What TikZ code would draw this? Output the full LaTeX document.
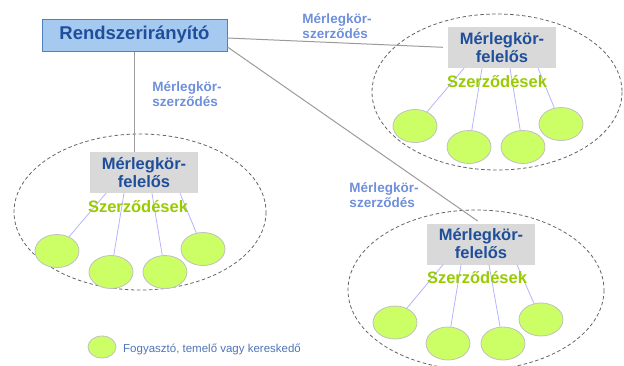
\documentclass[tikz,border=0pt]{standalone}
\usepackage{fontspec}
\setmainfont{Liberation Sans}
\usetikzlibrary{shapes.geometric,calc}

\definecolor{boxfill}{RGB}{166,201,240}
\definecolor{boxline}{RGB}{79,129,189}
\definecolor{darkblue}{RGB}{31,78,155}
\definecolor{lblue}{RGB}{110,143,220}
\definecolor{legblue}{RGB}{79,116,184}
\definecolor{greytxt}{RGB}{217,217,217}
\definecolor{contract}{RGB}{153,204,0}
\definecolor{member}{RGB}{204,255,102}
\definecolor{memberline}{RGB}{192,192,192}
\definecolor{link}{RGB}{155,155,155}
\definecolor{branch}{RGB}{180,180,255}
\definecolor{zone}{RGB}{100,100,100}

\tikzset{
  operator/.style={draw=boxline, line width=1pt, fill=boxfill, text=darkblue,
    font=\fontsize{18.5}{20}\selectfont\bfseries, minimum width=185pt,
    minimum height=32pt, inner sep=0pt},
  brp/.style={fill=greytxt, text=darkblue, align=center,
    font=\fontsize{16.5}{18}\selectfont\bfseries, minimum width=108pt,
    minimum height=41pt, inner sep=0pt},
  contracts/.style={text=contract, font=\fontsize{16.5}{18}\selectfont\bfseries, inner sep=0pt},
  agreement/.style={text=lblue, align=left,
    font=\fontsize{13.5}{14.5}\selectfont\bfseries, inner sep=0pt},
  party/.style={ellipse, draw=memberline, line width=0.8pt, fill=member,
    minimum width=44pt, minimum height=33pt, inner sep=0pt},
  zoneline/.style={draw=zone, line width=0.8pt, dash pattern=on 3.5pt off 2.5pt},
  linkline/.style={draw=link, line width=1pt},
  branchline/.style={draw=branch, line width=0.8pt},
}

\begin{document}
\begin{tikzpicture}[x=1pt, y=-1pt]
  \useasboundingbox (0,0) rectangle (624,365);
  \clip (0,0) rectangle (624,365);

  % balance groups
  \draw[zoneline] (140,212) ellipse [x radius=126, y radius=78];
  \draw[zoneline] (497,92) ellipse [x radius=125, y radius=78];
  \draw[zoneline] (476,290) ellipse [x radius=128, y radius=80];

  % system operator and balance responsible parties
  \node[operator] (rs) at (134.5,35) {Rendszerirányító};
  \node[brp] (g1) at (144,172.5) {Mérlegkör-\\felelős};
  \node[brp] (g2) at (502,47.5) {Mérlegkör-\\felelős};
  \node[brp] (g3) at (481,244) {Mérlegkör-\\felelős};

  % consumers, producers, traders
  \foreach \g/\i/\dx/\dy in {1/1/-87/78.5, 1/2/-33/99.5, 1/3/21/99.5, 1/4/59/76.5,
                            2/1/-87/78.5, 2/2/-33/99.5, 2/3/21/99.5, 2/4/59/76.5,
                            3/1/-86/78.5, 3/2/-33/99.5, 3/3/22/99.5, 3/4/60/75.5}
    \node[party] (c\g\i) at ($(g\g)+(\dx,\dy)$) {};

  % contracts from each party to its members
  \foreach \g in {1,2,3} {
    \draw[branchline] ($(g\g.south)+(-38,0)$) -- (c\g1);
    \draw[branchline] ($(g\g.south)+(-20,0)$) -- (c\g2);
    \draw[branchline] ($(g\g.south)+(8,0)$) -- (c\g3);
    \draw[branchline] ($(g\g.south)+(36,0)$) -- (c\g4);
  }

  \node[contracts] (s1) at (138,207) {Szerződések};
  \node[contracts] (s2) at (497,82) {Szerződések};
  \node[contracts] (s3) at (477,278) {Szerződések};

  % balance group agreements
  \draw[linkline] (rs.south) -- (rs.south |- g1.north);
  \draw[linkline, shorten >=5pt] ($(rs.east)+(0,3)$) -- (g2.west);
  \draw[linkline, shorten >=4pt] ($(rs.east)+(0,12)$) -- (g3.north);

  \node[agreement] (l1) at (187,94) {Mérlegkör-\\szerződés};
  \node[agreement] (l2) at (337,26) {Mérlegkör-\\szerződés};
  \node[agreement] (l3) at (384,195) {Mérlegkör-\\szerződés};

  % legend
  \node[party, minimum width=28pt, minimum height=22pt] (lc) at (102,347) {};
  \node[anchor=west, text=legblue, font=\fontsize{11.5}{13}\selectfont, inner sep=0pt]
    (lt) at (123,349) {Fogyasztó, temelő vagy kereskedő};
\end{tikzpicture}
\end{document}
